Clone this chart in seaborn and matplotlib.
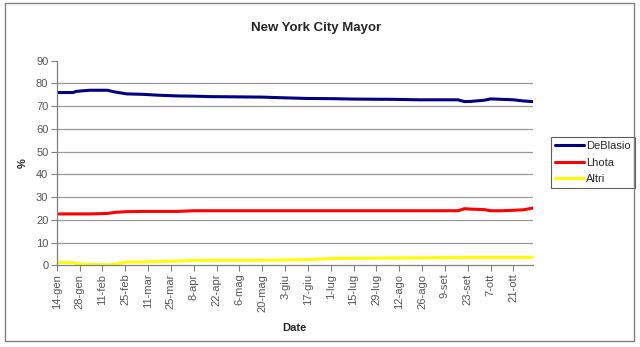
import matplotlib
matplotlib.use("Agg")
import matplotlib.pyplot as plt
import seaborn as sns
import pandas as pd
from matplotlib.patches import Rectangle

dates = ["2013-01-14", "2013-01-24", "2013-01-26", "2013-02-03", "2013-02-14",
         "2013-02-19", "2013-02-26", "2013-03-08", "2013-03-18", "2013-03-29",
         "2013-04-08", "2013-04-18", "2013-05-19", "2013-06-06", "2013-06-16",
         "2013-07-02", "2013-07-17", "2013-08-08", "2013-08-24", "2013-09-17",
         "2013-09-21", "2013-09-25", "2013-10-03", "2013-10-07", "2013-10-14",
         "2013-10-21", "2013-10-27", "2013-11-02"]
deblasio = [76.0, 76.0, 76.5, 77.0, 77.0, 76.2, 75.4, 75.2, 74.8, 74.5,
            74.4, 74.2, 74.0, 73.6, 73.4, 73.3, 73.1, 73.0, 72.8, 72.8,
            72.0, 72.1, 72.6, 73.2, 73.0, 72.8, 72.3, 72.0]
lhota = [22.6, 22.6, 22.6, 22.6, 22.8, 23.3, 23.6, 23.7, 23.7, 23.7,
         24.0, 24.0, 24.0, 24.0, 24.0, 24.0, 24.0, 24.0, 24.0, 24.0,
         24.9, 24.7, 24.5, 24.0, 24.0, 24.2, 24.4, 25.2]
altri = [1.3, 1.2, 0.7, 0.4, 0.2, 0.6, 1.4, 1.5, 1.7, 1.9,
         2.1, 2.2, 2.2, 2.4, 2.5, 3.0, 3.1, 3.2, 3.3, 3.4,
         3.5, 3.5, 3.5, 3.5, 3.5, 3.5, 3.5, 3.5]
series_names = ["DeBlasio", "Lhota", "Altri"]
series_colors = ["#000080", "#FF0000", "#FFFF00"]
tick_dates = ["2013-01-14", "2013-01-28", "2013-02-11", "2013-02-25", "2013-03-11",
              "2013-03-25", "2013-04-08", "2013-04-22", "2013-05-06", "2013-05-20",
              "2013-06-03", "2013-06-17", "2013-07-01", "2013-07-15", "2013-07-29",
              "2013-08-12", "2013-08-26", "2013-09-09", "2013-09-23", "2013-10-07",
              "2013-10-21"]
tick_labels = ["14-gen", "28-gen", "11-feb", "25-feb", "11-mar", "25-mar", "8-apr",
               "22-apr", "6-mag", "20-mag", "3-giu", "17-giu", "1-lug", "15-lug",
               "29-lug", "12-ago", "26-ago", "9-set", "23-set", "7-ott", "21-ott"]
y_ticks = [0, 10, 20, 30, 40, 50, 60, 70, 80, 90]

sns.set_theme(style="white")
plt.rcParams['font.family'] = ['Liberation Sans', 'DejaVu Sans']

start = pd.Timestamp(dates[0])
day = [(pd.Timestamp(d) - start).days for d in dates]
df = pd.DataFrame({
    "day": day * 3,
    "value": deblasio + lhota + altri,
    "series": sum([[n] * len(day) for n in series_names], []),
})
tick_pos = [(pd.Timestamp(d) - start).days for d in tick_dates]

fig = plt.figure(figsize=(6.4, 3.47), dpi=100)
ax = fig.add_axes([56.7 / 640, 1 - 265.3 / 347, (533 - 56.7) / 640, (265.3 - 60.7) / 347])

sns.lineplot(data=df, x="day", y="value", hue="series", hue_order=series_names,
             palette=dict(zip(series_names, series_colors)), linewidth=2.2, ax=ax)

ax.set_xlim(0, day[-1])
ax.set_ylim(0, 90)
ax.set_yticks(y_ticks)
ax.set_yticklabels([str(v) for v in y_ticks], fontsize=8, color="#555555")
ax.set_xticks(tick_pos)
ax.set_xticklabels(tick_labels, rotation=90, fontsize=8, color="#555555")
for v in y_ticks[1:-1]:
    ax.axhline(v, color="#999999", linewidth=0.9, zorder=0)
ax.tick_params(axis="both", which="major", direction="out", length=4, width=0.8,
               color="#808080", bottom=True, left=True, pad=2)
for s in ["top", "right"]:
    ax.spines[s].set_visible(False)
for s in ["left", "bottom"]:
    ax.spines[s].set_color("#808080")
    ax.spines[s].set_linewidth(0.9)
ax.set_xlabel("Date", fontsize=8, fontweight="bold", labelpad=8)
ax.set_ylabel("%", fontsize=8, fontweight="bold", labelpad=6)

fig.text(316 / 640, 1 - 28 / 347, "New York City Mayor", ha="center", va="center",
         fontsize=9.5, fontweight="bold")

leg = ax.legend(loc="upper left", bbox_to_anchor=(551 / 640, 1 - 137 / 347),
                bbox_transform=fig.transFigure, fontsize=8, frameon=True,
                fancybox=False, handlelength=2.6, handletextpad=0.2,
                borderpad=0.35, labelspacing=0.6, borderaxespad=0)
leg.get_frame().set_edgecolor("#333333")
leg.get_frame().set_linewidth(0.8)
for h in leg.get_lines():
    h.set_linewidth(2.2)

fig.add_artist(Rectangle((4.5 / 640, 1 - 341 / 347), 629.5 / 640, 338 / 347,
                         transform=fig.transFigure, fill=False,
                         edgecolor="#808080", linewidth=1.0))

fig.savefig("out.png", dpi=100)
